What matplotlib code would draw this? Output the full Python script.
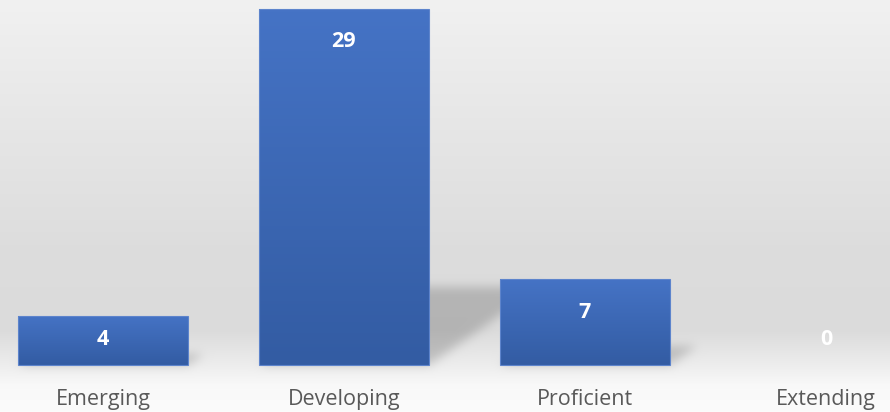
import numpy as np
import matplotlib
matplotlib.use("Agg")
import matplotlib.pyplot as plt
from matplotlib.colors import LinearSegmentedColormap

categories = ["Emerging", "Developing", "Proficient", "Extending"]
values = [4, 29, 7, 0]

W, H, DPI = 890, 412, 100
fig = plt.figure(figsize=(W / DPI, H / DPI), dpi=DPI)

ax = fig.add_axes([0, 0, 1, 1])
xlim = (-0.427, 3.266)
ylim = (-3.83, 29.72)
ax.set_xlim(*xlim)
ax.set_ylim(*ylim)
ax.axis("off")

bar_w = 0.705
rows = np.arange(H)
stops_y = [0, 120, 250, 330, 365, 385, 412]
stops_v = [0.945, 0.905, 0.865, 0.86, 0.93, 0.975, 0.985]
prof = np.interp(rows, stops_y, stops_v)
bg = np.repeat(prof[:, None], W, axis=1)

xs_d = xlim[0] + (np.arange(W) + 0.5) / W * (xlim[1] - xlim[0])
ys_d = ylim[1] - (np.arange(H) + 0.5) / H * (ylim[1] - ylim[0])
XX, YY = np.meshgrid(xs_d, ys_d)
mask = np.zeros((H, W))
skew = 0.073
hfrac = 0.22
for i, v in enumerate(values):
    if v <= 0:
        continue
    sh = v * hfrac
    inside = (YY >= 0) & (YY <= sh)
    xl = i - bar_w / 2 + skew * YY
    xr = i + bar_w / 2 + skew * YY
    m = inside & (XX >= xl) & (XX <= xr)
    mask = np.maximum(mask, m * 1.0)

def blur(a, s):
    r = int(3 * s)
    k = np.exp(-0.5 * (np.arange(-r, r + 1) / s) ** 2)
    k /= k.sum()
    a = np.apply_along_axis(lambda m: np.convolve(m, k, mode="same"), 0, a)
    a = np.apply_along_axis(lambda m: np.convolve(m, k, mode="same"), 1, a)
    return a

mask = blur(mask, 5)
img = bg * (1 - 0.18 * mask)
ax.imshow(np.dstack([img] * 3), extent=[xlim[0], xlim[1], ylim[0], ylim[1]],
          aspect="auto", zorder=0, interpolation="bilinear")

cmap = LinearSegmentedColormap.from_list("bar", ["#335ca3", "#4573c5"])
bars = ax.bar(range(len(values)), values, width=bar_w, color="none",
              edgecolor=["#5d84cc" if v > 0 else "none" for v in values],
              linewidth=0.8, zorder=3)
for b, v in zip(bars, values):
    if v <= 0:
        continue
    x0, w = b.get_x(), b.get_width()
    grad = np.linspace(1, 0, 100)[:, None]
    im = ax.imshow(grad, cmap=cmap, extent=[x0, x0 + w, 0, v], aspect="auto",
                   zorder=2, vmin=0, vmax=1)
    im.set_clip_path(b)

for i, v in enumerate(values):
    y = max(v - 2.7, 2.1)
    ax.text(i, y, str(v), ha="center", va="center", color="white",
            fontsize=15.5, fontweight="bold", family=["Open Sans", "DejaVu Sans"], zorder=4)

for i, c in enumerate(categories):
    ax.text(i, -2.8, c, ha="center", va="center", color="#595959",
            fontsize=15.5, family=["Open Sans", "DejaVu Sans"], zorder=4)

ax.set_xlim(*xlim)
ax.set_ylim(*ylim)
fig.savefig("out.png", dpi=DPI)
